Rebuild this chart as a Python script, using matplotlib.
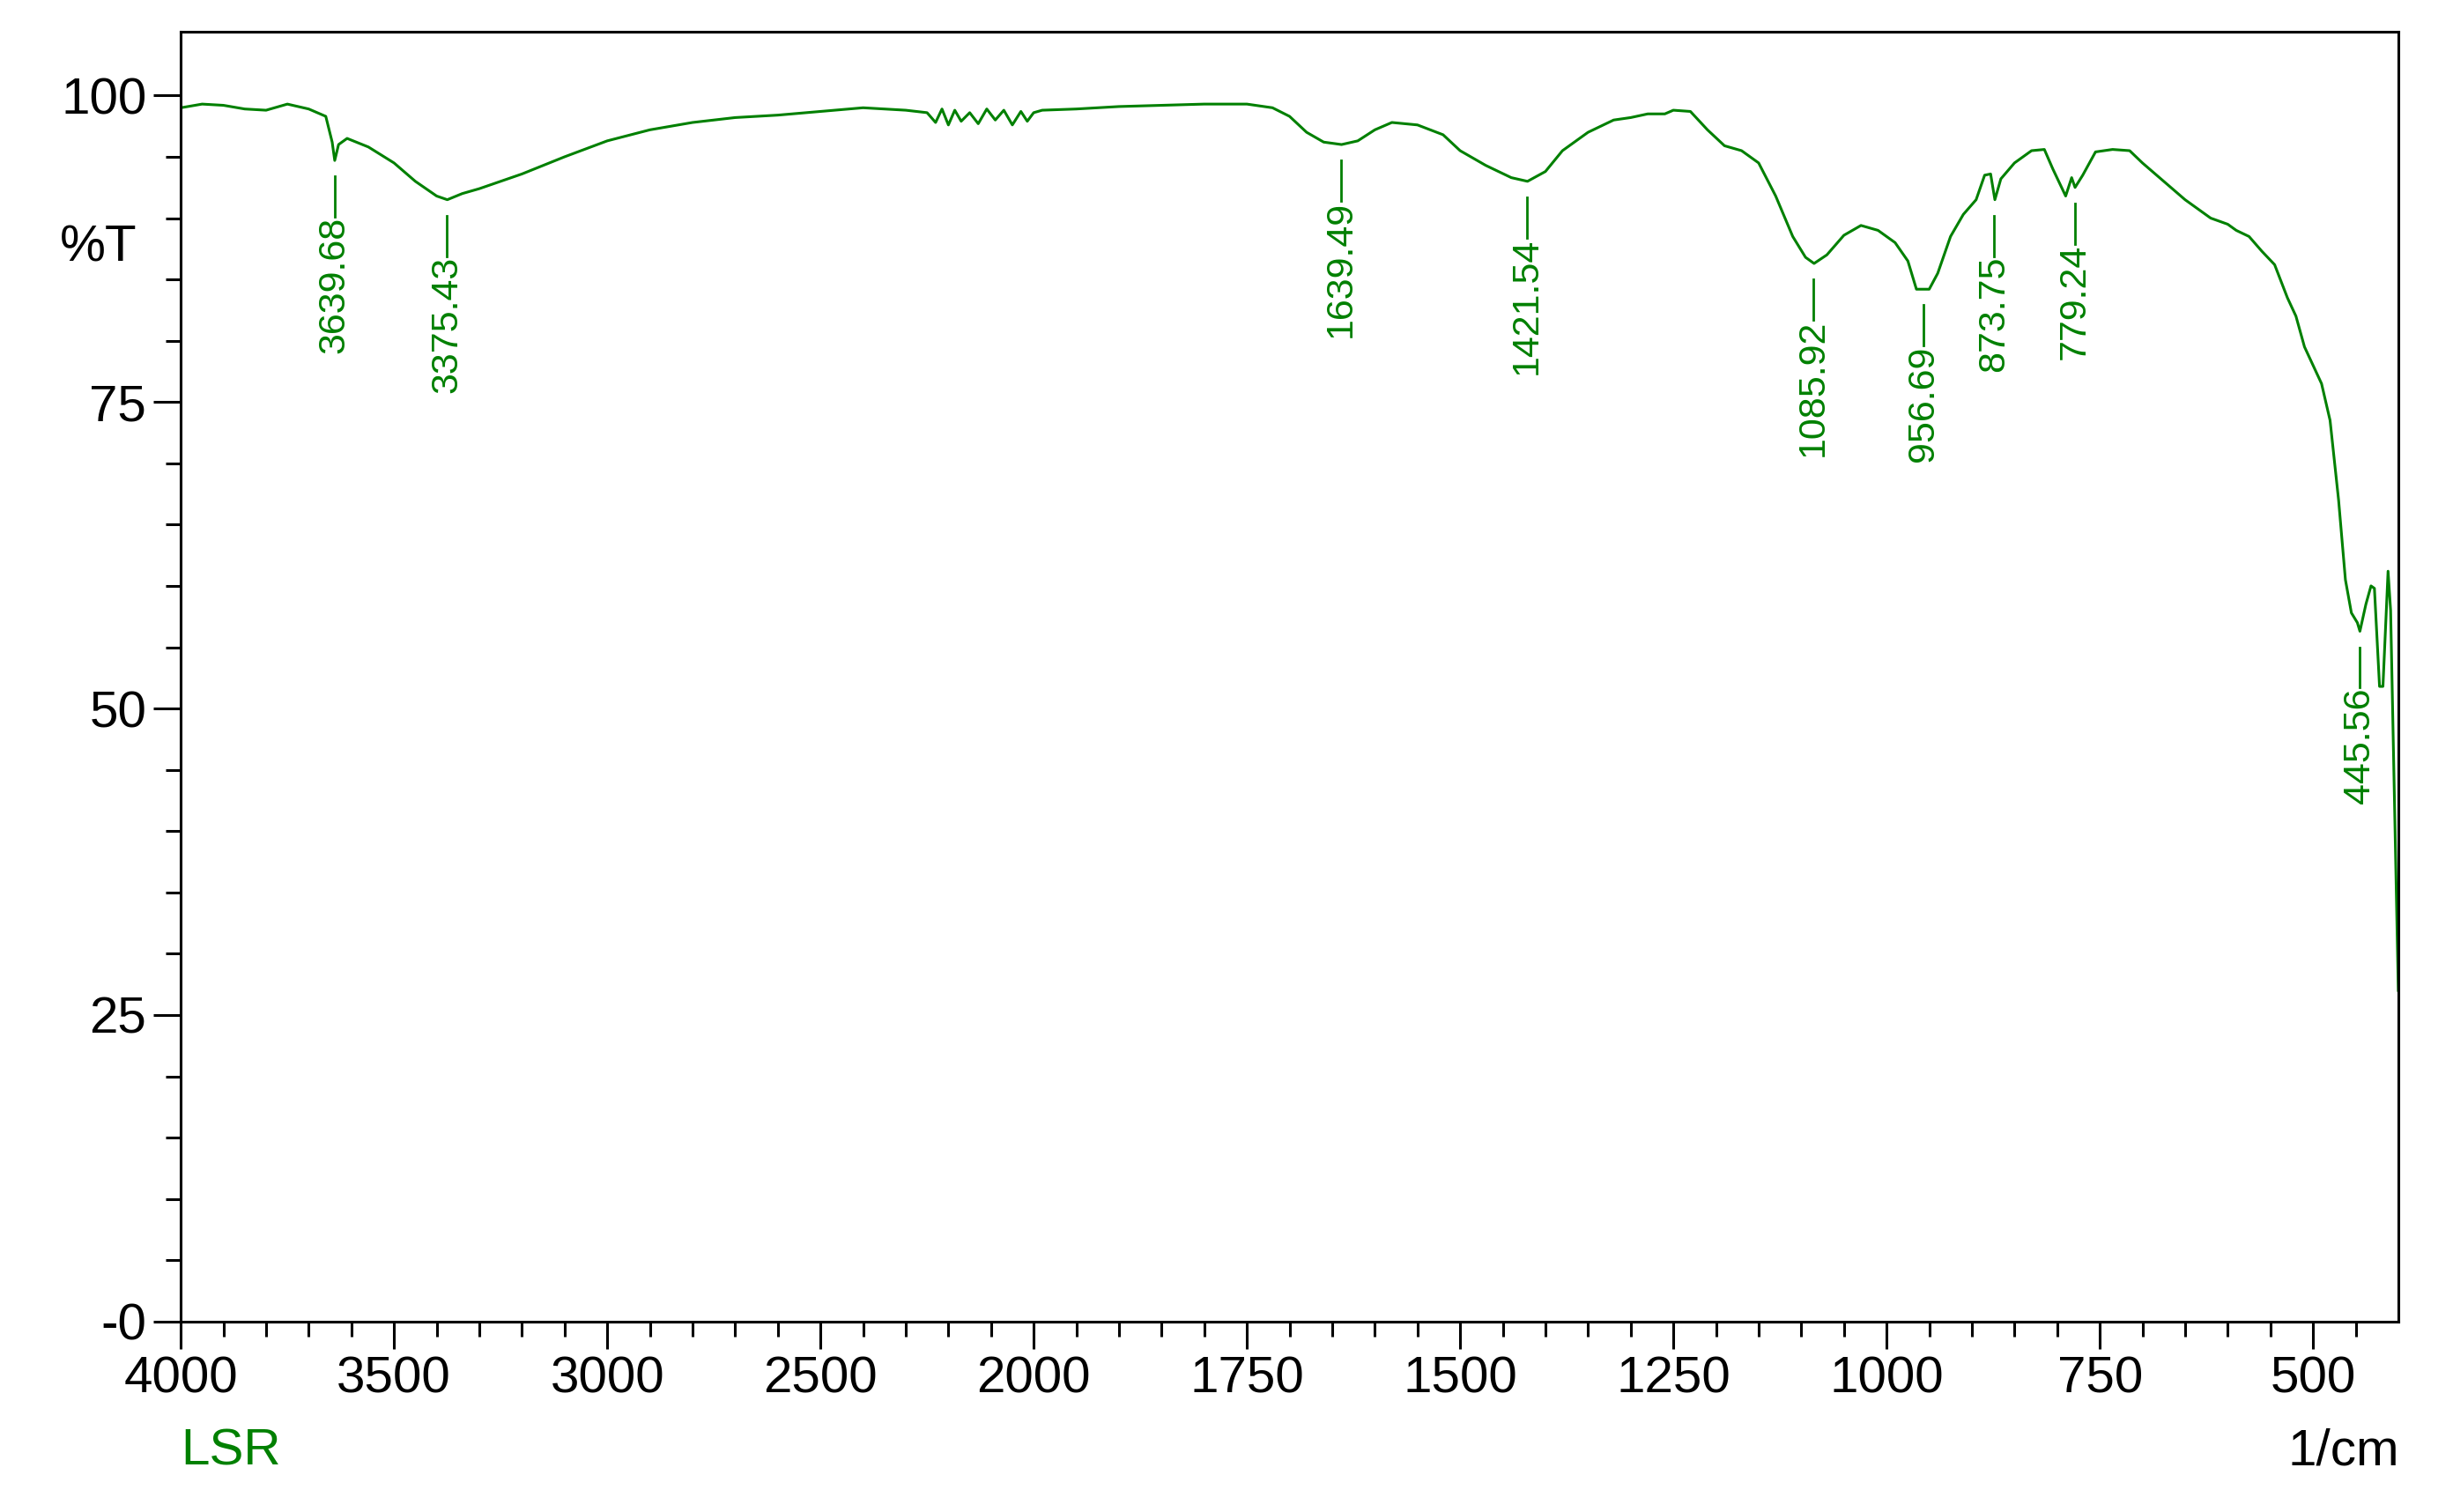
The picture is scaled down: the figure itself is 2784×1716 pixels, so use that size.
import matplotlib
matplotlib.use('Agg')
import matplotlib.pyplot as plt
import numpy as np
from matplotlib.ticker import FixedLocator, FixedFormatter

plt.rcParams['font.family'] = ['Liberation Sans', 'DejaVu Sans']

# ==================== 数据 ====================
wavenumber = [4000, 3950, 3900, 3850, 3800, 3750, 3700, 3680, 3660, 3645, 3639, 3630, 3610,
              3560, 3500, 3450, 3400, 3375, 3340, 3300, 3200, 3100, 3000, 2900, 2800,
              2700, 2600, 2500, 2400, 2300, 2250, 2230, 2215, 2200, 2185, 2170, 2150,
              2130, 2110, 2090, 2070, 2050, 2030, 2015, 2000, 1990, 1950, 1900, 1800,
              1750, 1720, 1700, 1680, 1660, 1639, 1620, 1600, 1580, 1550, 1520, 1500,
              1470, 1440, 1421, 1400, 1380, 1350, 1320, 1300, 1280, 1260, 1250, 1230,
              1210, 1190, 1170, 1150, 1130, 1110, 1095, 1085, 1070, 1050, 1030, 1010,
              990, 975, 965, 950, 940, 925, 910, 895, 885, 878, 873, 866, 850, 830,
              815, 805, 790, 783, 779, 770, 755, 735, 715, 700, 650, 620, 600, 590,
              575, 560, 545, 530, 520, 510, 500, 490, 480, 470, 462, 455, 448, 445,
              438, 432, 428, 422, 418, 412, 409, 400]
transmittance = [99.0, 99.3, 99.2, 98.9, 98.8, 99.3, 98.9, 98.6, 98.3, 96.2, 94.7, 96.0, 96.5,
                 95.8, 94.5, 93.0, 91.8, 91.5, 92.0, 92.4, 93.6, 95.0, 96.3, 97.2, 97.8,
                 98.2, 98.4, 98.7, 99.0, 98.8, 98.6, 97.8, 98.9, 97.6, 98.8, 97.9, 98.6,
                 97.7, 98.9, 98.0, 98.8, 97.6, 98.7, 97.9, 98.6, 98.8, 98.9, 99.1, 99.3,
                 99.3, 99.0, 98.3, 97.0, 96.2, 96.0, 96.3, 97.2, 97.8, 97.6, 96.8, 95.5,
                 94.3, 93.3, 93.0, 93.8, 95.5, 97.0, 98.0, 98.2, 98.5, 98.5, 98.8, 98.7,
                 97.2, 95.9, 95.5, 94.5, 91.8, 88.5, 86.8, 86.3, 87.0, 88.6, 89.4, 89.0,
                 88.0, 86.5, 84.2, 84.2, 85.5, 88.5, 90.3, 91.5, 93.5, 93.6, 91.5, 93.2,
                 94.5, 95.5, 95.6, 94.0, 91.8, 93.3, 92.5, 93.5, 95.4, 95.6, 95.5, 94.5,
                 91.5, 90.0, 89.5, 89.0, 88.5, 87.3, 86.2, 83.5, 82.0, 79.5, 78.0, 76.5,
                 73.5, 67.0, 60.5, 57.8, 57.0, 56.3, 58.5, 60.0, 59.8, 51.8, 51.8, 61.2,
                 58.0, 27.0]

peak_wn = [3639.68, 3375.43, 1639.49, 1421.54, 1085.92, 956.69, 873.75, 779.24, 445.56]
peak_t = [94.7, 91.5, 96.0, 93.0, 86.3, 84.2, 91.5, 92.5, 56.3]

green = '#008000'


# 2000 以上压缩一半的横轴
def fwd(x):
    x = np.asarray(x, dtype=float)
    return np.where(x <= 2000, x, 2000 + (x - 2000) / 2)


def inv(t):
    t = np.asarray(t, dtype=float)
    return np.where(t <= 2000, t, 2000 + (t - 2000) * 2)


fig = plt.figure(figsize=(27.84, 17.16), dpi=100)
ax = fig.add_axes([0.0737, 0.126, 0.904, 0.853])
ax.set_xscale('function', functions=(fwd, inv))
ax.plot(wavenumber, transmittance, color=green, linewidth=2.2)

for w, t in zip(peak_wn, peak_t):
    ax.plot([w, w], [t - 1.3, t - 4.6], color=green, linewidth=2)
    ax.text(w, t - 4.6, f'{w:.2f}', rotation=90, ha='center', va='top',
            color=green, fontsize=31)

ax.set_xlim(4000, 400)
ax.set_ylim(0, 105.2)

major_x = [4000, 3500, 3000, 2500, 2000, 1750, 1500, 1250, 1000, 750, 500]
minor_x = [w for w in range(3900, 2000, -100) if w % 500] + \
          [w for w in range(1950, 400, -50) if w % 250]
ax.xaxis.set_major_locator(FixedLocator(major_x))
ax.xaxis.set_major_formatter(FixedFormatter([str(v) for v in major_x]))
ax.xaxis.set_minor_locator(FixedLocator(minor_x))

ax.yaxis.set_major_locator(FixedLocator([0, 25, 50, 75, 100]))
ax.yaxis.set_major_formatter(FixedFormatter(['-0', '25', '50', '75', '100']))
ax.yaxis.set_minor_locator(FixedLocator(list(range(5, 105, 5))))

ax.tick_params(which='major', length=22, width=2.2, labelsize=42, direction='out', pad=6)
ax.tick_params(which='minor', length=12, width=2.2, direction='out')
for s in ax.spines.values():
    s.set_linewidth(2.2)

fig.text(0.04, 0.836, '%T', fontsize=42, ha='center', va='center')
fig.text(0.0737, 0.04, 'LSR', fontsize=42, color=green, ha='left', va='center')
fig.text(0.978, 0.04, '1/cm', fontsize=42, ha='right', va='center')

fig.savefig('out.png', dpi=100, facecolor='white')
